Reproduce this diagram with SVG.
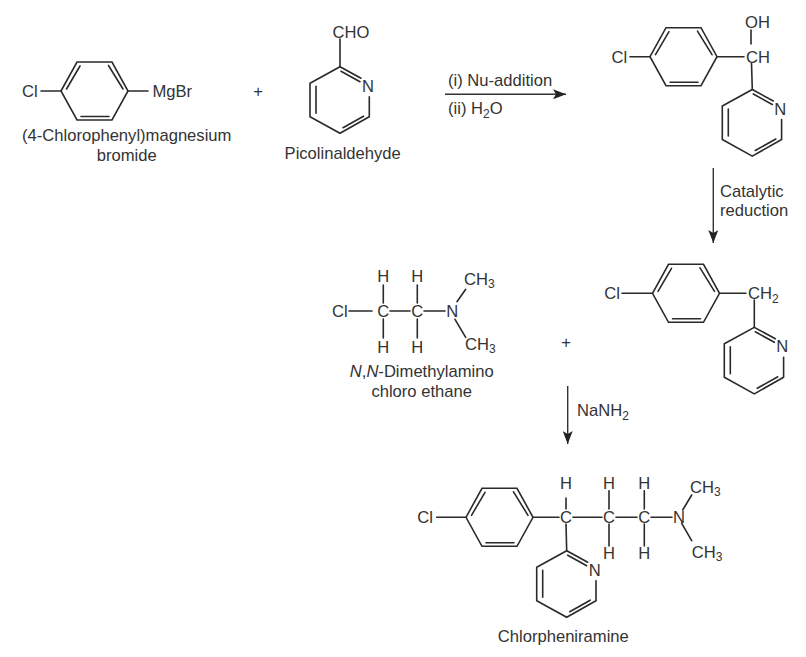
<svg xmlns="http://www.w3.org/2000/svg" xmlns:xlink="http://www.w3.org/1999/xlink" width="806" height="657" viewBox="0 0 806 657">
<style>
text{font-family:"Liberation Sans",Arial,sans-serif;font-size:16.6px;fill:#333}
.m{text-anchor:middle}
.sub{font-size:12px}
.b{fill:none;stroke:#2a2a2a;stroke-width:1.6;stroke-linecap:round;stroke-linejoin:miter}
.a{fill:none;stroke:#333;stroke-width:1.4}
</style>
<defs>
<marker id="ah" markerUnits="userSpaceOnUse" markerWidth="14" markerHeight="10" refX="13" refY="5" orient="auto"><path d="M0,0 L13,5 L0,10 L3,5 Z" fill="#222"/></marker>
<g id="benzene"><path class="b" d="M0,0 L16,-29 L51,-29 L67,0 L51,29 L16,29 Z M5.5,-2 L19,-25 M47.5,-25.500 L62,-2 M20,25.500 L48,25.500"/></g>
<g id="pyridine"><path class="b" d="M21,11.500 L0,0 L-30,16.500 L-30,50 L0,66.600 L29.300,50 L29.300,30 M-24,19.500 L-24,46.500 M3,61 L23.500,49.500 M1,4.500 L20,15"/><text class="m" x="28" y="25">N</text></g>
</defs>
<rect width="806" height="657" fill="#fff"/>
<g id="connectors">
<path class="a" d="M445,94.300 H566" marker-end="url(#ah)"/>
<path class="a" d="M713.300,168 V243" marker-end="url(#ah)"/>
<path class="a" d="M567.700,386 V444" marker-end="url(#ah)"/>
</g>
<g id="grignard">
<use href="#benzene" x="61" y="91"/>
<path class="b" d="M41,91 H61 M128,91 H148"/>
<text x="22" y="96.500">Cl</text><text x="152.500" y="96.500">MgBr</text>
<text class="m" x="126.700" y="141">(4-Chlorophenyl)magnesium</text>
<text class="m" x="126.700" y="160.500">bromide</text>
</g>
<g id="plus1"><text class="m" x="258" y="97">+</text></g>
<g id="picolinaldehyde">
<use href="#pyridine" x="340" y="66.700"/>
<path class="b" d="M340,66.700 V39"/>
<text class="m" x="351" y="38">CHO</text>
<text class="m" x="342.700" y="159">Picolinaldehyde</text>
</g>
<g id="reagent1"><text x="448" y="86">(i) Nu-addition</text>
<text x="448" y="114">(ii) H<tspan class="sub" dy="4">2</tspan><tspan dy="-4">O</tspan></text></g>
<g id="alcohol">
<use href="#benzene" x="650" y="56.700"/>
<use href="#pyridine" x="752.300" y="89.500"/>
<path class="b" d="M630,56.700 H650 M717,56.700 H744 M751,30 V44 M751.500,63 L752.300,89.500"/>
<text x="611.500" y="62.500">Cl</text>
<text x="745" y="27.500">OH</text><text x="746" y="62.500">CH</text>
</g>
<g id="reagent2"><text x="720" y="196.500">Catalytic</text><text x="720" y="216">reduction</text></g>
<g id="amine">
<path class="b" d="M349,311 H372 M390,311 H410 M424,311 H445 M383.300,285 V303 M383.300,319 V338 M417.300,285 V303 M417.300,319 V338 M457,301.700 L465.700,289.300 M455,319.300 L465.700,337.300"/>
<text x="332" y="316.500">Cl</text>
<text class="m" x="383.300" y="316.500">C</text><text class="m" x="417.300" y="316.500">C</text><text class="m" x="452.300" y="316.500">N</text>
<text class="m" x="383.300" y="282">H</text><text class="m" x="417.300" y="282">H</text>
<text class="m" x="383.300" y="353">H</text><text class="m" x="417.300" y="353">H</text>
<text x="464" y="285">CH<tspan class="sub" dy="3">3</tspan></text>
<text x="465" y="350">CH<tspan class="sub" dy="3">3</tspan></text>
<text class="m" x="421.700" y="376.500"><tspan font-style="italic">N</tspan>,<tspan font-style="italic">N</tspan>-Dimethylamino</text>
<text class="m" x="421.700" y="396.500">chloro ethane</text>
</g>
<g id="plus2"><text class="m" x="566" y="348">+</text></g>
<g id="reduced">
<use href="#benzene" x="652.500" y="293.300"/>
<use href="#pyridine" x="754.300" y="327.300"/>
<path class="b" d="M622,293.300 H652.500 M719.500,293.300 H746 M754.300,300 V327.300"/>
<text x="604.300" y="298.800">Cl</text>
<text x="748" y="298.800">CH<tspan class="sub" dy="4">2</tspan></text>
</g>
<g id="reagent3"><text x="577" y="415.500">NaNH<tspan class="sub" dy="4">2</tspan></text></g>
<g id="chlorpheniramine">
<use href="#benzene" x="466" y="517.300"/>
<use href="#pyridine" x="566.700" y="550.700"/>
<path class="b" d="M436.700,517.300 H466 M533,517.300 H559 M573,517.300 H602 M616,517.300 H637 M651,517.300 H672 M566,498 V509 M609,490.700 V509 M609,524 V546 M644.300,490.700 V509 M644.300,524 V546 M566,524 L566.700,550.700 M682.700,510 L691.700,495 M681.700,523.300 L691.700,540.700"/>
<text x="417.300" y="522.500">Cl</text>
<text class="m" x="566" y="523">C</text><text class="m" x="609" y="523">C</text><text class="m" x="644.300" y="523">C</text><text class="m" x="679" y="523">N</text>
<text class="m" x="566" y="488.500">H</text><text class="m" x="609" y="488.500">H</text><text class="m" x="644.300" y="488.500">H</text>
<text class="m" x="609" y="558.500">H</text><text class="m" x="644.300" y="558.500">H</text>
<text x="690" y="493">CH<tspan class="sub" dy="3">3</tspan></text>
<text x="691.700" y="558">CH<tspan class="sub" dy="3">3</tspan></text>
<text class="m" x="563.300" y="642">Chlorpheniramine</text>
</g>
</svg>
